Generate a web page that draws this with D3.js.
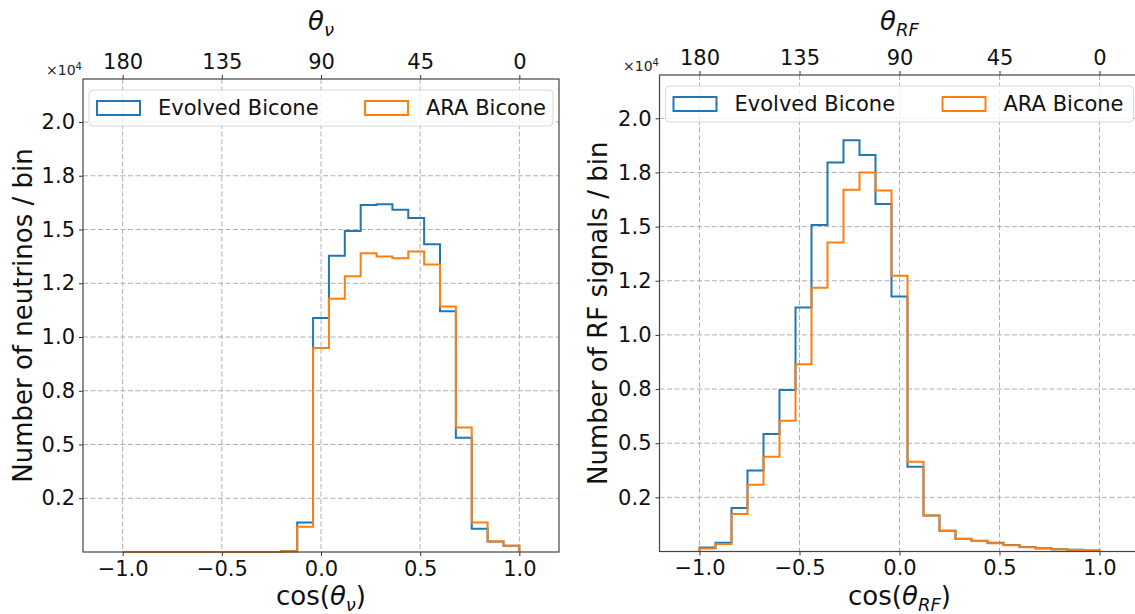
<!DOCTYPE html>
<html>
<head>
<meta charset="utf-8">
<script src="https://cdn.jsdelivr.net/npm/d3@7"></script>
<style>
  body { margin: 0; background: #fff; }
  svg { display: block; font-family: "DejaVu Sans", sans-serif; }
</style>
</head>
<body>
<svg id="chart" width="1135" height="614"></svg>
<script>
// bin edges shared by both histograms (25 bins over cos theta)
var binEdges = [-1.00, -0.92, -0.84, -0.76, -0.68, -0.60, -0.52, -0.44, -0.36, -0.28,
                -0.20, -0.12, -0.04, 0.04, 0.12, 0.20, 0.28, 0.36, 0.44, 0.52,
                0.60, 0.68, 0.76, 0.84, 0.92, 1.00];

var seriesNames = ["Evolved Bicone", "ARA Bicone"];
var seriesColors = ["#1f77b4", "#ff7f0e"];

// neutrino direction counts per bin
var nuEvolved = [0, 0, 0, 0, 0, 0, 0, 0, 0, 0,
                 30, 1370, 10880, 13780, 14930, 16140, 16170, 15920, 15530, 14310,
                 11200, 5310, 1080, 490, 290];
var nuARA     = [0, 0, 0, 0, 0, 0, 0, 0, 0, 0,
                 30, 1180, 9490, 11780, 12830, 13890, 13750, 13660, 13980, 13370,
                 11420, 5790, 1370, 490, 290];

// RF signal direction counts per bin
var rfEvolved = [190, 400, 2010, 3740, 5420, 7460, 11260, 15070, 17960, 18990,
                 18310, 16040, 11770, 3910, 1660, 960, 590, 500, 400, 300,
                 210, 150, 100, 80, 50];
var rfARA     = [140, 350, 1730, 3080, 4380, 6040, 8650, 12180, 14270, 16700,
                 17500, 16670, 12730, 4140, 1660, 960, 580, 490, 380, 290,
                 200, 140, 100, 70, 50];

var xTicks = [-1.0, -0.5, 0.0, 0.5, 1.0];
var xTickLabels = ["\u22121.0", "\u22120.5", "0.0", "0.5", "1.0"];
var thetaTicks = [180, 135, 90, 45, 0];
var yTicks = [2500, 5000, 7500, 10000, 12500, 15000, 17500, 20000];
var yTickLabels = ["0.2", "0.5", "0.8", "1.0", "1.2", "1.5", "1.8", "2.0"];

var svg = d3.select("#chart");

function drawPanel(p) {
    var g = svg.append("g");

    var x = d3.scaleLinear().domain([-1.2, 1.2]).range([p.left, p.right]);
    // top axis in degrees, linear on the same pixels
    var th = d3.scaleLinear().domain([198, -18]).range([p.left, p.right]);
    var y = d3.scaleLinear().domain([0, 22000]).range([p.bottom, p.top]);

    // grid
    g.selectAll(".gx").data(xTicks).enter().append("line")
        .attr("x1", function(d) { return x(d); })
        .attr("x2", function(d) { return x(d); })
        .attr("y1", p.top).attr("y2", p.bottom)
        .attr("stroke", "#b0b0b0").attr("stroke-width", 1)
        .attr("stroke-dasharray", "5,2.5");
    g.selectAll(".gy").data(yTicks).enter().append("line")
        .attr("x1", p.left).attr("x2", p.right)
        .attr("y1", function(d) { return y(d); })
        .attr("y2", function(d) { return y(d); })
        .attr("stroke", "#b0b0b0").attr("stroke-width", 1)
        .attr("stroke-dasharray", "5,2.5");

    // step histograms
    var line = d3.line()
        .x(function(d) { return x(d[0]); })
        .y(function(d) { return y(d[1]); });
    p.series.forEach(function(vals, k) {
        var pts = [[binEdges[0], 0]];
        vals.forEach(function(v, i) {
            pts.push([binEdges[i], v]);
            pts.push([binEdges[i + 1], v]);
        });
        pts.push([binEdges[binEdges.length - 1], 0]);
        g.append("path")
            .attr("d", line(pts))
            .attr("fill", "none")
            .attr("stroke", seriesColors[k])
            .attr("stroke-width", 2)
            .attr("stroke-linejoin", "miter");
    });

    // axes
    var bottomAxis = d3.axisBottom(x).tickValues(xTicks)
        .tickFormat(function(d, i) { return xTickLabels[i]; })
        .tickSize(4).tickPadding(5);
    var leftAxis = d3.axisLeft(y).tickValues(yTicks)
        .tickFormat(function(d, i) { return yTickLabels[i]; })
        .tickSize(4).tickPadding(4);
    var topAxis = d3.axisTop(th).tickValues(thetaTicks)
        .tickFormat(function(d) { return d; })
        .tickSize(4).tickPadding(6);

    var ax = [
        g.append("g").attr("transform", "translate(0," + p.bottom + ")").call(bottomAxis),
        g.append("g").attr("transform", "translate(" + p.left + ",0)").call(leftAxis),
        g.append("g").attr("transform", "translate(0," + p.top + ")").call(topAxis)
    ];
    ax.forEach(function(a) {
        a.select(".domain").remove();
        a.selectAll("line").attr("stroke", "#333").attr("stroke-width", 1);
        a.selectAll("text").attr("fill", "#111").style("font-size", "21px")
            .style("font-family", "DejaVu Sans");
    });

    // frame
    g.append("rect")
        .attr("x", p.left).attr("y", p.top)
        .attr("width", p.right - p.left).attr("height", p.bottom - p.top)
        .attr("fill", "none").attr("stroke", "#444").attr("stroke-width", 1.2);

    // offset text
    var off = g.append("text").attr("x", p.offX).attr("y", p.top - 4)
        .style("font-size", "14px").attr("fill", "#222");
    off.append("tspan").text("\u00d710");
    off.append("tspan").text("4").attr("dy", -5).style("font-size", "10px");

    // title on top (theta)
    var t = g.append("text").attr("x", x(0)).attr("y", 30)
        .attr("text-anchor", "middle").style("font-size", "26px").attr("fill", "#111");
    t.append("tspan").text("\u03b8").style("font-style", "italic");
    t.append("tspan").text(p.sub).style("font-style", "italic")
        .style("font-size", "18px").attr("dy", 6);

    // x label
    var xl = g.append("text").attr("x", x(0)).attr("y", 605)
        .attr("text-anchor", "middle").style("font-size", "26px").attr("fill", "#111");
    xl.append("tspan").text("cos(");
    xl.append("tspan").text("\u03b8").style("font-style", "italic");
    xl.append("tspan").text(p.sub).style("font-style", "italic")
        .style("font-size", "18px").attr("dy", 6);
    xl.append("tspan").text(")").attr("dy", -6);

    // y label
    g.append("text")
        .attr("transform", "translate(" + p.ylabX + "," + ((p.top + p.bottom) / 2) + ") rotate(-90)")
        .attr("text-anchor", "middle").style("font-size", "26px").attr("fill", "#111")
        .text(p.ylabel);

    // legend
    var lg = g.append("g");
    lg.append("rect")
        .attr("x", p.left + 6).attr("y", p.top + 11)
        .attr("width", p.legW).attr("height", 36).attr("rx", 4)
        .attr("fill", "#fff").attr("fill-opacity", 0.8)
        .attr("stroke", "#d8d8d8").attr("stroke-width", 1);
    var items = lg.selectAll(".item").data(seriesNames).enter().append("g")
        .attr("transform", function(d, i) {
            return "translate(" + (p.left + 14 + i * p.legStep) + "," + (p.top + 22) + ")";
        });
    items.append("rect").attr("x", 0).attr("y", 0).attr("width", 43).attr("height", 14)
        .attr("fill", "none")
        .attr("stroke", function(d, i) { return seriesColors[i]; })
        .attr("stroke-width", 2);
    items.append("text").attr("x", 61).attr("y", 14)
        .style("font-size", "21px").attr("fill", "#111")
        .text(function(d) { return d; });
}

drawPanel({
    left: 83, right: 559, top: 79, bottom: 552,
    series: [nuEvolved, nuARA], sub: "\u03bd",
    ylabel: "Number of neutrinos / bin", ylabX: 32, offX: 46,
    legW: 464, legStep: 268
});
drawPanel({
    left: 659.5, right: 1139.5, top: 75, bottom: 551.5,
    series: [rfEvolved, rfARA], sub: "RF",
    ylabel: "Number of RF signals / bin", ylabX: 607, offX: 623,
    legW: 468, legStep: 269
});
</script>
</body>
</html>
